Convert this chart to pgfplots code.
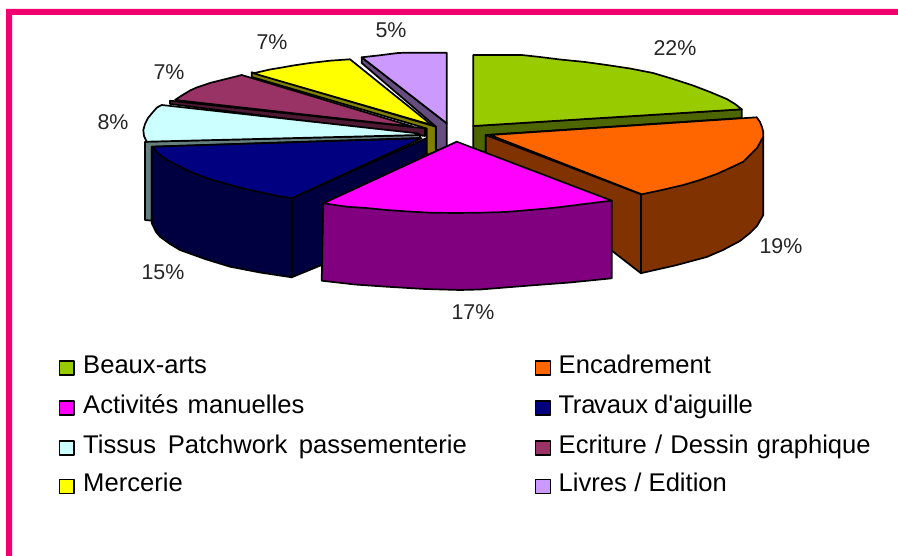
\documentclass[border=0pt]{standalone}
\usepackage{pgfplots}
\pgfplotsset{compat=1.18}
\usepackage{fontspec}
\setmainfont[Ligatures=TeXOff]{Liberation Sans}
\definecolor{frame}{HTML}{F2006F}
\definecolor{cGreen}{HTML}{99CC00}\definecolor{wGreen}{HTML}{4D6600}
\definecolor{cOrange}{HTML}{FF6600}\definecolor{wOrange}{HTML}{803300}
\definecolor{cMag}{HTML}{FF00FF}\definecolor{wMag}{HTML}{800080}
\definecolor{cNavy}{HTML}{000080}\definecolor{wNavy}{HTML}{000040}
\definecolor{cCyan}{HTML}{CCFFFF}\definecolor{wCyan}{HTML}{668080}
\definecolor{cPlum}{HTML}{993366}\definecolor{wPlum}{HTML}{4D1933}
\definecolor{cYel}{HTML}{FFFF00}\definecolor{wYel}{HTML}{808000}
\definecolor{cLil}{HTML}{CC99FF}\definecolor{wLil}{HTML}{664D80}
\newcommand{\leg}[4]{\node[anchor=base west,inner sep=0pt,text=black,font=\fontsize{25.6}{28}\selectfont] at (axis cs:#1,#2) {\spaceskip=#3pt #4};}
\newcommand{\pct}[3]{\node[anchor=center,inner sep=0pt,text=black!85,font=\fontsize{21.4}{24}\selectfont] at (axis cs:#1,#2) {#3};}
\begin{document}
\begin{tikzpicture}[x=1pt,y=1pt]
\path[use as bounding box] (0,0) rectangle (898pt,556pt);
\begin{axis}[
  at={(0,0)},anchor=south west,
  scale only axis,width=898pt,height=556pt,
  xmin=0,xmax=898,ymin=0,ymax=556,y dir=reverse,
  hide axis,clip=true,
  every axis plot/.append style={line join=round,line width=1.7pt,draw=black,mark=none}
]
% frame
\addplot[fill=frame,draw=none] coordinates {(6,9)(898,9)(898,15)(12,15)(12,556)(6,556)} --cycle;
% lilac
\addplot[fill=wLil] coordinates {(361.7,57.3)(361.7,63)(436,126.7)(436,150)(446.7,150)(446.7,123.3)} --cycle;
\addplot[fill=cLil] coordinates {(446.7,123.3)(446.7,52.7)(406.7,52.7)(398,53)(390,54)(378,55.5)(361.7,57.3)} --cycle;
% yellow
\addplot[fill=wYel] coordinates {(251.7,72.3)(251.7,77)(426.7,128.5)(426.7,155)(435.7,152)(435.7,126.7)} --cycle;
\addplot[fill=cYel] coordinates {(431.7,125)(253.3,73.3)(270,69.5)(282,67.5)(293.3,65.5)(310,63)(330,60.7)(340,60)(350,59.3)} --cycle;
% plum
\addplot[fill=wPlum] coordinates {(170,100.7)(170,104)(425,136)(425,128.3)} --cycle;
\addplot[fill=cPlum] coordinates {(413.3,126.7)(175,100)(181,96)(190,90.5)(196.7,87.5)(210,83)(226,79)(241.7,75)} --cycle;
% cyan
\addplot[fill=wCyan] coordinates {(145,141.7)(145,220)(151.7,220.7)(151.7,146.7)(420,138)(420,135)} --cycle;
\addplot[fill=cCyan] coordinates {(419,133.5)(419,135)(146.7,141.7)(144,136)(143.3,130)(145,124)(148,118)(153,112)(157,107.5)(161.7,105)} --cycle;
% navy
\addplot[fill=wNavy] coordinates {(426,138.3)(426,153.3)(321.7,265)(291.7,277.3)(291.7,198.3)} --cycle;
\addplot[fill=wNavy] coordinates {(151.7,146.7)(151.7,223)(156,232)(160,236.7)(170,244)(180,250)(205,259)(230,266.7)(260,272.5)(291.7,277.3)(291.7,198.3)} --cycle;
\addplot[fill=cNavy] coordinates {(421.7,138.3)(291.7,198.3)(278,196)(263.3,193)(243,188.5)(223,183)(208,178.5)(193,173)(181,167)(170,161.7)(162,156.5)(156.7,152)(152.7,146.7)} --cycle;
% green
\addplot[fill=wGreen] coordinates {(473.3,126)(741.7,109.3)(741.7,118)(485.7,135)(485.7,152)(473.3,150)} --cycle;
\addplot[fill=cGreen] coordinates {(473.3,126)(473.3,55)(521.7,55)(540,57)(560,59.5)(585,62)(606.7,65)(630,68.5)(653,73)(673,79)(693,85.5)(710,92)(726.7,99)(735,104)(741.7,109.3)} --cycle;
% orange
\addplot[fill=wOrange] coordinates {(485.7,135)(485.7,153)(641,273.3)(641,194.3)} --cycle;
\addplot[fill=wOrange] coordinates {(641,194.3)(641,273.3)(643,272.7)(675,265.5)(706.7,257)(723,250)(740,241)(750,233)(757,226)(763.3,215)(763.3,136.7)} --cycle;
\addplot[fill=cOrange] coordinates {(490,135)(756.7,117.3)(760,122)(762,127)(763.3,132)(763.3,136.7)(757,148)(750,155)(743.3,161.7)(730,168)(716.7,174)(700,180)(683.3,185)(662,190)(641.7,194.3)} --cycle;
% magenta
\addplot[fill=wMag] coordinates {(323.3,203.3)(321.7,280.7)(355,284.5)(386.7,286.7)(425,289)(460,290)(480,289.5)(505,287.5)(530,285.5)(570,282.5)(611.7,278.3)(611.7,200.7)} --cycle;
\addplot[fill=cMag] coordinates {(456.7,141.7)(611.7,200.7)(592,203)(573,205.5)(552,208)(530,210)(505,212)(480,212.7)(455,213)(430,212.7)(408,211.5)(386.7,210)(366,208)(346.7,206.7)(323.3,203.3)} --cycle;
% legend swatches
\addplot[fill=cGreen] coordinates {(59.5,361)(74,361)(74,375)(59.5,375)} --cycle;
\addplot[fill=cMag] coordinates {(59.5,401)(74,401)(74,415)(59.5,415)} --cycle;
\addplot[fill=cCyan] coordinates {(59.5,441)(74,441)(74,455)(59.5,455)} --cycle;
\addplot[fill=cYel] coordinates {(59.5,479.5)(74,479.5)(74,493.5)(59.5,493.5)} --cycle;
\addplot[fill=cOrange] coordinates {(535.5,361)(550.5,361)(550.5,375)(535.5,375)} --cycle;
\addplot[fill=cNavy] coordinates {(535.5,401)(550.5,401)(550.5,415)(535.5,415)} --cycle;
\addplot[fill=cPlum] coordinates {(535.5,441)(550.5,441)(550.5,455)(535.5,455)} --cycle;
\addplot[fill=cLil] coordinates {(535.5,479.5)(550.5,479.5)(550.5,493.5)(535.5,493.5)} --cycle;
\leg{83}{373.5}{9}{Beaux-arts}
\leg{83}{413.5}{9.2}{Activités manuelles}
\leg{83}{453.5}{11.6}{Tissus Patchwork passementerie}
\leg{83}{491.5}{9}{Mercerie}
\leg{558.5}{373.5}{9}{Encadrement}
\leg{558.5}{413.5}{6}{T\kern-1.5pt ra\kern-1.5pt vaux d'aiguille}
\leg{558.5}{453.5}{8.2}{Ecriture / Dessin graphique}
\leg{558.5}{491.5}{7.3}{Livres / Edition}
\pct{675}{48}{22\%}
\pct{781}{246}{19\%}
\pct{473}{312}{17\%}
\pct{163}{272}{15\%}
\pct{113}{122}{8\%}
\pct{169}{72}{7\%}
\pct{272}{42}{7\%}
\pct{391}{30}{5\%}
\end{axis}
\end{tikzpicture}
\end{document}
